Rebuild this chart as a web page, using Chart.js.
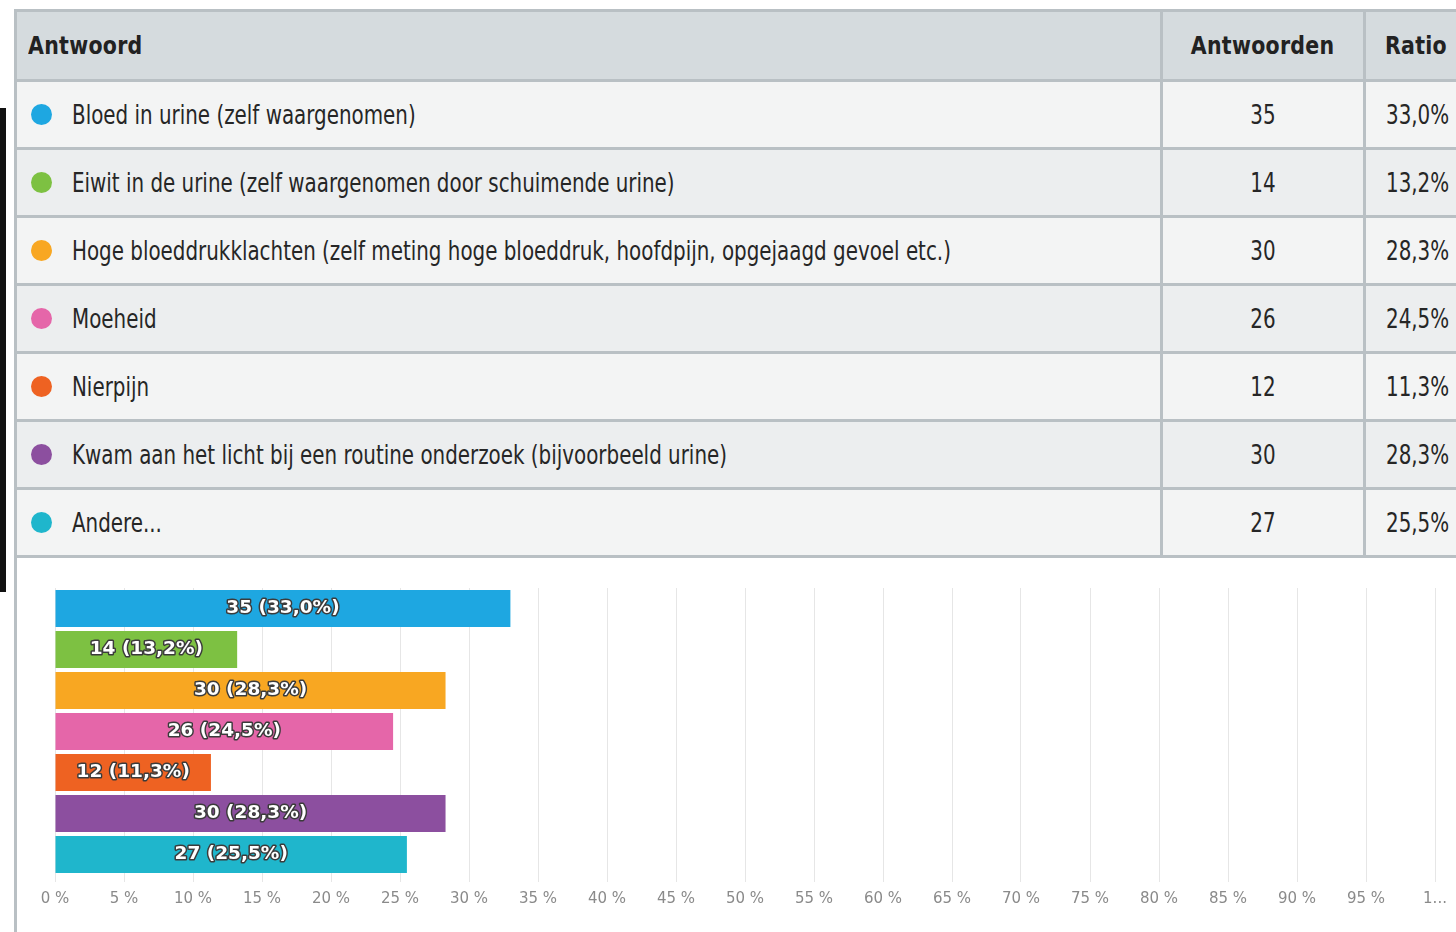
<!DOCTYPE html>
<html>
<head>
<meta charset="utf-8">
<script src="https://cdn.jsdelivr.net/npm/chart.js@4/dist/chart.umd.min.js"></script>
<style>
  html, body { margin: 0; padding: 0; background: #fff; }
  body { width: 1456px; height: 932px; overflow: hidden; position: relative; }
  .blackbar { position: absolute; left: 0; top: 108px; width: 6px; height: 484px; background: #111; }
  .leftborder { position: absolute; left: 14px; top: 9px; width: 3px; height: 923px; background: #b9c0c4; }
  table {
    position: absolute; left: 14px; top: 9px;
    border-collapse: collapse; table-layout: fixed; width: 1500px;
    font-family: "Liberation Sans Narrow", "DejaVu Sans Condensed", "DejaVu Sans", sans-serif;
    color: #222;
  }
  th, td { border: 3px solid #b9c0c4; padding: 0; white-space: nowrap; }
  th {
    background: #d5dbde; height: 67px; font-weight: bold; font-size: 24px;
    letter-spacing: 0.3px;
  }
  th.ans { text-align: left; padding-left: 11px; }
  td { height: 65px; font-size: 26px; }
  tr:nth-child(odd) td { background: #f3f4f4; }
  tr:nth-child(even) td { background: #eceeef; }
  td.ans { padding-left: 14px; }
  .dot { display: inline-block; width: 21px; height: 21px; border-radius: 50%; vertical-align: -1px; margin-right: 20px; }
  .narrow { display: inline-block; transform: scaleX(0.85); transform-origin: left center; color: #262626; }
  .hn { display: inline-block; transform: scaleX(0.95); transform-origin: center center; }
  .hl { display: inline-block; transform: scaleX(0.95); transform-origin: left center; }
  td.num { text-align: center; }
  td.num span { display: inline-block; transform: scaleX(0.85); color: #262626; }
  td.pct { padding-left: 20px; }
  th.pct { text-align: left; padding-left: 19px; }
  .chartbox { position: absolute; left: 0; top: 556px; width: 1456px; height: 376px; }
</style>
</head>
<body>
<div class="blackbar"></div>
<div class="leftborder"></div>
<table id="tbl">
  <colgroup><col style="width:1146px"><col style="width:203px"><col style="width:151px"></colgroup>
  <thead><tr>
    <th class="ans"><span class="hl">Antwoord</span></th>
    <th><span class="hn">Antwoorden</span></th>
    <th class="pct"><span class="hl">Ratio</span></th>
  </tr></thead>
  <tbody id="rows"></tbody>
</table>
<div class="chartbox"><canvas id="chart"></canvas></div>
<script>
const answers = [
  'Bloed in urine (zelf waargenomen)',
  'Eiwit in de urine (zelf waargenomen door schuimende urine)',
  'Hoge bloeddrukklachten (zelf meting hoge bloeddruk, hoofdpijn, opgejaagd gevoel etc.)',
  'Moeheid',
  'Nierpijn',
  'Kwam aan het licht bij een routine onderzoek (bijvoorbeeld urine)',
  'Andere...'
]
const counts = [35, 14, 30, 26, 12, 30, 27]
const ratios = [33.0, 13.2, 28.3, 24.5, 11.3, 28.3, 25.5]
const colors = ['#1ea7e1', '#7dc142', '#f8a722', '#e566a9', '#ee6222', '#8c4f9f', '#1fb6cc']
const xTicks = ['0 %', '5 %', '10 %', '15 %', '20 %', '25 %', '30 %', '35 %', '40 %', '45 %', '50 %',
  '55 %', '60 %', '65 %', '70 %', '75 %', '80 %', '85 %', '90 %', '95 %', '1...']

const fmt = (v) => v.toFixed(1).replace('.', ',') + '%'

// table rows
const tbody = document.getElementById('rows')
answers.forEach((a, i) => {
  const tr = document.createElement('tr')
  tr.innerHTML = `
    <td class="ans"><span class="dot" style="background:${colors[i]}"></span><span class="narrow">${a}</span></td>
    <td class="num"><span>${counts[i]}</span></td>
    <td class="pct"><span class="narrow">${fmt(ratios[i])}</span></td>`
  tbody.appendChild(tr)
})

// labels inside the bars
const barLabels = {
  id: 'barLabels',
  afterDatasetsDraw(chart) {
    const ctx = chart.ctx
    const meta = chart.getDatasetMeta(0)
    ctx.save()
    ctx.font = 'bold 18.5px "DejaVu Sans", sans-serif'
    ctx.textAlign = 'center'
    ctx.textBaseline = 'middle'
    ctx.lineJoin = 'round'
    meta.data.forEach((bar, i) => {
      const text = counts[i] + ' (' + fmt(ratios[i]) + ')'
      const x = (bar.x + bar.base) / 2
      ctx.lineWidth = 3
      ctx.strokeStyle = '#3b3b3b'
      ctx.strokeText(text, x, bar.y)
      ctx.fillStyle = '#ffffff'
      ctx.fillText(text, x, bar.y)
    })
    ctx.restore()
  }
}

new Chart(document.getElementById('chart'), {
  type: 'bar',
  data: {
    labels: answers,
    datasets: [{
      data: ratios,
      backgroundColor: colors,
      borderWidth: 0,
      barPercentage: 0.9,
      categoryPercentage: 1.0,
    }],
  },
  options: {
    indexAxis: 'y',
    responsive: true,
    maintainAspectRatio: false,
    animation: false,
    layout: { padding: { left: 55, right: 21, top: 32, bottom: 21 } },
    plugins: { legend: { display: false }, tooltip: { enabled: false } },
    scales: {
      y: { display: false },
      x: {
        min: 0,
        max: 100,
        ticks: {
          stepSize: 5,
          padding: 8,
          color: '#8a8a8a',
          font: { family: '"DejaVu Sans", sans-serif', size: 15 },
          maxRotation: 0,
          autoSkip: false,
          callback: (v) => xTicks[v / 5],
        },
        grid: { color: '#e6e6e6', tickLength: 7 },
        border: { display: false },
        afterFit: (scale) => { scale.height = 36 },
      },
    },
  },
  plugins: [barLabels],
})
</script>
</body>
</html>
